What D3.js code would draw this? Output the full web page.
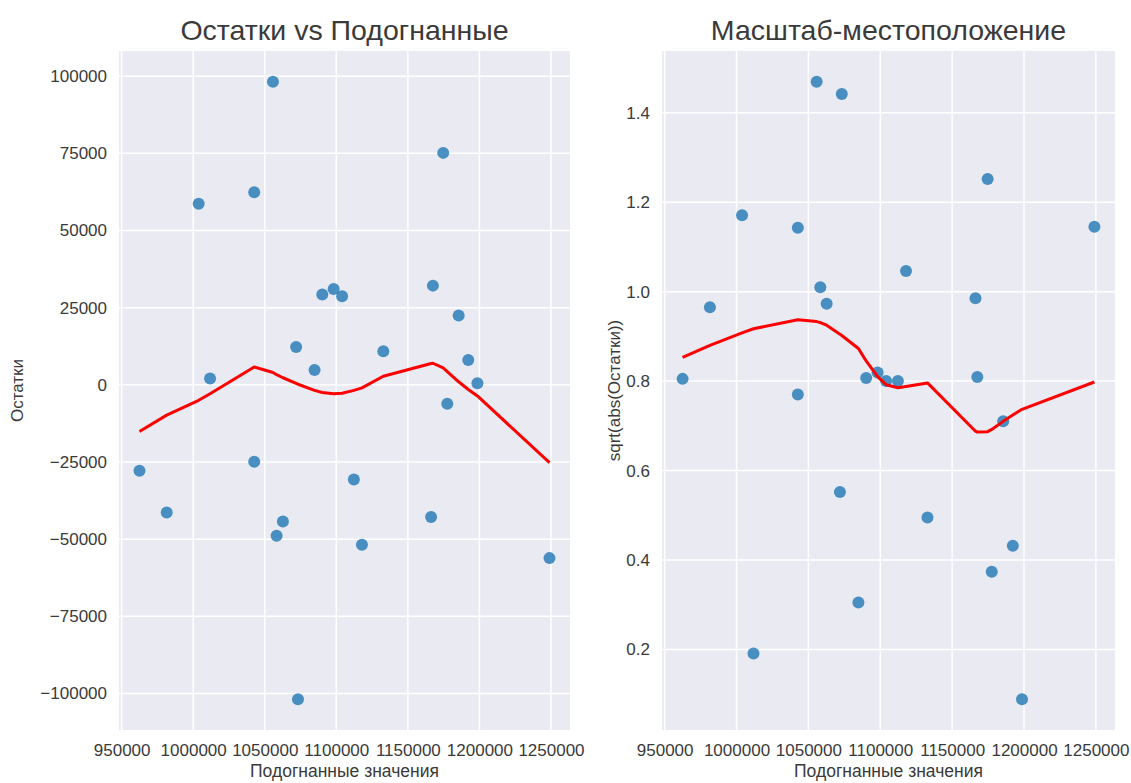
<!DOCTYPE html>
<html>
<head>
<meta charset="utf-8">
<script src="https://cdn.jsdelivr.net/npm/d3@7"></script>
<style>
    body { margin: 0; background: #ffffff; }
    svg text { font-family: "Liberation Sans", Arial, sans-serif; fill: #3a3a3a; }
</style>
</head>
<body>
<svg id="chart" width="1131" height="783"></svg>
<script>
"use strict";

// Data, sorted by fitted value
var fittedValues = [962490, 981500, 1003850, 1011800, 1042650, 1042650, 1055750, 1058300, 1062700,
    1071950, 1073230, 1084800, 1090200, 1098150, 1104060, 1112280, 1117930, 1132850,
    1166240, 1167500, 1174700, 1177550, 1185500, 1192200, 1198600, 1248970];

var residuals = [-27800, -41380, 58700, 2040, 62370, -24900, 98170, -48900, -44300,
    12260, -101830, 4840, 29250, 31070, 28710, -30700, -51830, 10860,
    -42780, 32150, 75160, -6140, 22470, 8060, 540, -56140];

var scaleLocation = [0.805, 0.965, 1.171, 0.191, 1.143, 0.770, 1.469, 1.010, 0.973,
    0.552, 1.442, 0.305, 0.807, 0.819, 0.800, 0.800, 1.046, 0.495,
    0.985, 0.809, 1.252, 0.374, 0.710, 0.432, 0.089, 1.145];

// lowess curves (red)
var lowessResid = [-15100, -9800, -5000, -2900, 5800, 5800, 4000, 3300, 2300,
    500, 200, -1800, -2500, -2900, -2700, -1800, -1000, 2800,
    6900, 7000, 5500, 4300, 1000, -1500, -3600, -25200];

var lowessScale = [0.853, 0.880, 0.908, 0.917, 0.937, 0.937, 0.933, 0.931, 0.925,
    0.905, 0.902, 0.873, 0.845, 0.810, 0.792, 0.785, 0.788, 0.796,
    0.688, 0.686, 0.687, 0.692, 0.710, 0.724, 0.737, 0.798];

var xTicks = [950000, 1000000, 1050000, 1100000, 1150000, 1200000, 1250000];
var residTicks = [-100000, -75000, -50000, -25000, 0, 25000, 50000, 75000, 100000];
var scaleTicks = [0.2, 0.4, 0.6, 0.8, 1.0, 1.2, 1.4];

var titles = ["Остатки vs Подогнанные", "Масштаб-местоположение"];
var yLabels = ["Остатки", "sqrt(abs(Остатки))"];
var xLabel = "Подогнанные значения";

var svg = d3.select("#chart");

function padded(values)
{
    var ext = d3.extent(values);
    var m = (ext[1] - ext[0]) * 0.05;
    return [ext[0] - m, ext[1] + m];
}

function fmt(v, decimals)
{
    var s = decimals ? v.toFixed(decimals) : String(v);
    return s.replace("-", "\u2212");
}

function drawPanel(opts)
{
    var g = svg.append("g").attr("transform", "translate(" + opts.left + "," + opts.top + ")");
    var w = opts.width, h = opts.height;

    var x = d3.scaleLinear().domain(padded(fittedValues)).range([0, w]);
    var y = d3.scaleLinear().domain(padded(opts.values)).range([h, 0]);

    g.append("rect").attr("width", w).attr("height", h).attr("fill", "#eaeaf2");

    // grid
    g.selectAll(".vgrid").data(xTicks).enter().append("line")
        .attr("x1", function (d) { return x(d); })
        .attr("x2", function (d) { return x(d); })
        .attr("y1", 0).attr("y2", h)
        .attr("stroke", "#ffffff").attr("stroke-width", 1.5);
    g.selectAll(".hgrid").data(opts.yTicks).enter().append("line")
        .attr("y1", function (d) { return y(d); })
        .attr("y2", function (d) { return y(d); })
        .attr("x1", 0).attr("x2", w)
        .attr("stroke", "#ffffff").attr("stroke-width", 1.5);

    // tick labels
    var xAxis = g.append("g").attr("transform", "translate(0," + h + ")")
        .call(d3.axisBottom(x).tickValues(xTicks).tickSize(0).tickPadding(14)
            .tickFormat(function (d) { return fmt(d); }));
    var yAxis = g.append("g")
        .call(d3.axisLeft(y).tickValues(opts.yTicks).tickSize(0).tickPadding(12)
            .tickFormat(function (d) { return fmt(d, opts.decimals); }));
    [xAxis, yAxis].forEach(function (a) {
        a.select(".domain").remove();
        a.selectAll("text").attr("font-size", 17).attr("fill", "#3a3a3a")
            .attr("font-family", "\"Liberation Sans\", Arial, sans-serif");
    });

    // points
    g.selectAll(".dot").data(fittedValues).enter().append("circle")
        .attr("cx", function (d) { return x(d); })
        .attr("cy", function (d, i) { return y(opts.values[i]); })
        .attr("r", 6)
        .attr("fill", "#1f77b4")
        .attr("fill-opacity", 0.8);

    // lowess line
    var line = d3.line()
        .x(function (d) { return x(d); })
        .y(function (d, i) { return y(opts.smooth[i]); });
    g.append("path").datum(fittedValues)
        .attr("d", line)
        .attr("fill", "none")
        .attr("stroke", "#ff0000")
        .attr("stroke-width", 3)
        .attr("stroke-linejoin", "round");

    // texts
    g.append("text").attr("x", w / 2).attr("y", -11)
        .attr("text-anchor", "middle").attr("font-size", 28.5).attr("fill", "#262626")
        .text(opts.title);
    g.append("text").attr("x", w / 2).attr("y", h + 47)
        .attr("text-anchor", "middle").attr("font-size", 17.5)
        .text(xLabel);
    g.append("text")
        .attr("transform", "translate(" + opts.yLabelX + "," + (h / 2) + ") rotate(-90)")
        .attr("text-anchor", "middle").attr("font-size", 17)
        .text(opts.yLabel);
}

drawPanel({
    left: 119, top: 51, width: 451, height: 679,
    values: residuals, smooth: lowessResid, yTicks: residTicks, decimals: 0,
    title: titles[0], yLabel: yLabels[0], yLabelX: -96
});

drawPanel({
    left: 662, top: 51, width: 453, height: 679,
    values: scaleLocation, smooth: lowessScale, yTicks: scaleTicks, decimals: 1,
    title: titles[1], yLabel: yLabels[1], yLabelX: -42
});
</script>
</body>
</html>
